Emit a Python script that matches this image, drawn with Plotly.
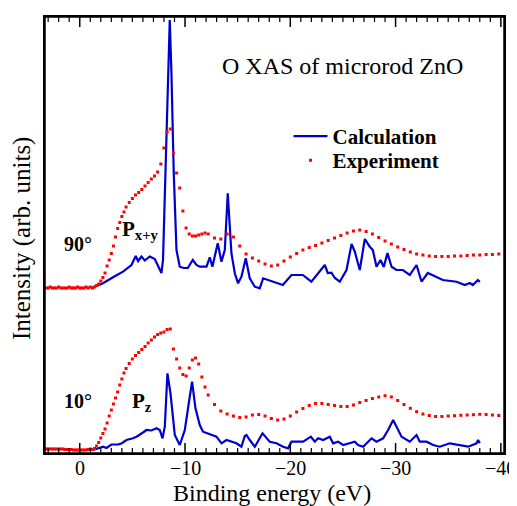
import plotly.graph_objects as go

# ---------------- data (energies in eV, intensities in arb. units) ----------------
exp_energy = [3.2, 3.0, 2.8, 2.6, 2.4, 2.2, 2.0, 1.8, 1.6, 1.4, 1.2, 1.0, 0.8, 0.6, 0.4, 0.2, 0.0,
              -0.2, -0.4, -0.6, -0.8, -1.0,
              -1.2, -1.4, -1.6, -1.8, -2.0, -2.2, -2.4, -2.6, -2.8, -3.0, -3.2, -3.4, -3.6, -3.8,
              -4.0, -4.2, -4.4,
              -4.7, -5.0, -5.3, -5.6, -5.9, -6.2, -6.5, -6.8, -7.1, -7.4, -7.7, -8.0, -8.3, -8.6,
              -8.9, -9.2, -9.5, -9.8, -10.1, -10.4, -10.7, -11.0, -11.3, -11.6, -11.9,
              -12.2, -12.8, -13.4, -14.0, -14.6, -15.2, -15.8, -16.4, -17.0, -17.6, -18.2, -18.8,
              -19.4, -20.0, -20.6, -21.2, -21.8, -22.4, -23.0, -23.6, -24.2, -24.8, -25.4, -26.0,
              -26.6, -27.2, -27.8, -28.4, -29.0, -29.6, -30.2, -30.8, -31.4, -32.0, -32.6, -33.2,
              -33.8, -34.4, -35.0, -35.6, -36.2, -36.8, -37.4, -38.0, -38.6, -39.2, -39.8]

exp_90 = [165, 165, 166, 165, 165, 165, 166, 165, 165, 165, 165, 166, 165, 165, 165, 166, 165,
          165, 165, 166, 165, 166,
          165, 166, 167.5, 169, 172, 175.5, 180, 187, 193, 199.5, 207, 216, 224.5, 230.5,
          236.5, 241, 246,
          250.5, 254.5, 258, 260.5, 263.5, 267, 270.5, 274, 277, 281, 289, 305, 321, 324,
          300, 280, 265, 242, 225, 219, 217, 217, 218, 219, 220,
          219, 215, 214, 219, 216, 207, 199, 195, 192, 189, 187, 188,
          192, 196, 199.5, 203, 205.5, 207.5, 210, 212.5, 215, 217.5, 220, 222,
          223, 221.5, 219, 215.5, 212, 209, 206, 203.5, 201, 199, 198, 197,
          196.5, 196.5, 196.5, 197, 197, 197.5, 198, 198, 198.5, 198.5, 199]

exp_10 = [4, 4, 4, 4, 4, 4, 4, 4, 4, 3.5, 3.5, 3.5, 3.5, 3, 3, 3, 3,
          3, 3, 3, 3.5, 4,
          3.5, 4.5, 7, 10.5, 15, 19.5, 24, 30, 37, 43, 49, 55, 61, 68,
          74, 80, 84.5,
          89.5, 94, 97.5, 100.5, 103.5, 106.5, 110, 113, 116, 118.5, 120, 121, 123.5, 124,
          104, 94, 85, 78.5, 77, 85, 93, 95, 89, 76, 66,
          58, 48.5, 42, 39, 37, 35.5, 36, 38, 38.5, 37, 34.5, 33,
          34, 37, 41, 44.5, 47.5, 49.5, 49.5, 48.5, 47.5, 46.5, 46.5, 48,
          50.5, 52.5, 54.5, 56, 57.3, 56, 52.5, 48.5, 44.7, 41.3, 39, 37.5,
          36.5, 36.5, 37, 37.3, 37.7, 38, 38.3, 38.7, 38.5, 38, 37.5]

calc90_energy = [-1.14, -2.21, -3.16, -4.11, -4.91, -5.32, -5.54, -5.86, -6.18, -6.65, -7.13,
                 -7.44, -7.76, -7.91, -8.08, -8.36, -8.55, -8.71, -8.93, -9.19, -9.5, -9.88,
                 -10.26, -10.74, -11.09, -11.4, -12.04, -12.35, -12.6, -13.11, -13.46, -13.78,
                 -14.06, -14.41, -14.73, -15.04, -15.36, -15.77, -16.15, -16.63, -17.1, -17.42,
                 -17.89, -18.53, -19.29, -20.11, -21.19, -22.0, -22.8, -23.28, -23.56, -23.91,
                 -24.23, -24.7, -25.34, -25.82, -26.13, -26.6, -27.08, -27.55, -27.84, -28.19,
                 -28.57, -28.88, -29.23, -29.62, -30.09, -30.69, -31.35, -31.99, -32.47, -33.06,
                 -34.49, -35.79, -36.58, -37.05, -37.34, -37.82, -38.0]
calc_90 = [165, 169.7, 175.7, 181.3, 188, 197, 192, 196.5, 192.5, 196.5, 194,
           187, 180, 193, 253, 360, 433, 380, 280, 203, 186.3, 185,
           185, 193, 188, 186.3, 186.3, 195.7, 186.3, 209.7, 191.3, 203,
           259.7, 199.7, 179.7, 169.7, 176.3, 194.7, 174.7, 166.3, 164.7, 174.7,
           173, 171.3, 168, 178, 178, 171.3, 181.3, 188, 180, 180.3,
           175, 171.3, 183, 209, 201.3, 183, 214, 206.3, 203, 186.3,
           193, 186, 200, 186.3, 183, 183, 178, 188, 171.3, 180,
           173, 171.3, 168, 170, 168, 173, 171]

calc10_energy = [-0.95, -1.43, -2.21, -2.54, -3.01, -3.64, -3.96, -4.44, -5.06, -5.39, -6.01,
                 -6.34, -6.81, -7.29, -7.6, -7.86, -8.08, -8.33, -8.62, -9.03, -9.5, -9.98,
                 -10.36, -10.67, -10.99, -11.4, -11.71, -12.19, -12.99, -13.46, -13.94, -14.89,
                 -15.36, -15.68, -15.84, -16.15, -16.63, -17.36, -17.74, -18.05, -18.69, -19.32,
                 -19.79, -20.11, -21.22, -21.95, -22.33, -22.64, -23.12, -23.75, -24.07, -24.54,
                 -25.02, -26.13, -26.44, -26.92, -27.72, -28.19, -28.82, -29.29, -29.77, -30.09,
                 -30.57, -31.35, -31.99, -32.3, -32.94, -33.57, -34.2, -35.15, -36.1, -36.9,
                 -37.69, -37.84, -38.0]
calc_10 = [3, 3.5, 6.3, 5, 8.5, 8.5, 9.5, 13, 14.7, 16.3, 20.5,
           23, 22.5, 24.7, 23, 14.7, 26.3, 79.7, 59.7, 18, 8, 23,
           50, 71.3, 45, 28, 21.3, 19.7, 16.3, 9.7, 13, 9.7,
           6.3, 17, 18, 13, 6.3, 19.7, 14.7, 11.3, 9.7, 6.3,
           4.7, 11.3, 11.3, 16.3, 11.3, 14.7, 13, 16.3, 9.7, 11.3,
           8, 11.3, 8, 6.3, 14.7, 11.3, 14.7, 23, 33, 26.3,
           16.3, 11.3, 18, 11.3, 11.3, 8, 6.3, 9.7, 8, 6.3,
           9.7, 13, 9.7]

x_ticks = [0, -10, -20, -30, -40]
x_tick_text = ["0", "\u221210", "\u221220", "\u221230", "\u221240"]
x_minor_ticks = [v for v in range(3, -41, -1) if v not in x_ticks]

# ---------------- styling ----------------
FONT = "Liberation Serif"
BLUE = "#0000cc"
RED = "#ff0000"
X_RANGE = [3.3, -40.3]
Y_RANGE = [0, 436]          # y units equal plot pixels (plot height 436 px)
MAJOR_LEN, MINOR_LEN = 10, 5


def tick_segments(vals, length):
    """Inside tick marks on bottom and top frame edges, on the x scale."""
    xs, ys = [], []
    for v in vals:
        xs += [v, v, None, v, v, None]
        ys += [Y_RANGE[0], Y_RANGE[0] + length, None, Y_RANGE[1], Y_RANGE[1] - length, None]
    return xs, ys


fig = go.Figure()
fig.add_trace(go.Scatter(x=calc90_energy, y=calc_90, mode="lines", name="<b>Calculation</b>",
                         line=dict(color=BLUE, width=2.2), legend="legend"))
fig.add_trace(go.Scatter(x=calc10_energy, y=calc_10, mode="lines", showlegend=False,
                         line=dict(color=BLUE, width=2.2)))
fig.add_trace(go.Scatter(x=exp_energy, y=exp_90, mode="markers", name="<b>Experiment</b>",
                         marker=dict(color=RED, size=3, symbol="square", line=dict(width=0)),
                         legend="legend2"))
fig.add_trace(go.Scatter(x=exp_energy, y=exp_10, mode="markers", showlegend=False,
                         marker=dict(color=RED, size=3, symbol="square", line=dict(width=0))))

# frame tick marks (major and minor), top and bottom
mx, my = tick_segments(x_ticks, MAJOR_LEN)
fig.add_trace(go.Scatter(x=mx, y=my, mode="lines", showlegend=False, hoverinfo="skip",
                         line=dict(color="black", width=1.5)))
nx, ny = tick_segments(x_minor_ticks, MINOR_LEN)
fig.add_trace(go.Scatter(x=nx, y=ny, mode="lines", showlegend=False, hoverinfo="skip",
                         line=dict(color="black", width=1.2)))

legend_common = dict(font=dict(family=FONT, size=21, color="black"), bgcolor="rgba(0,0,0,0)",
                     borderwidth=0, xanchor="left", yanchor="middle", itemwidth=34)

txt = dict(family=FONT, color="black")

annotations = [
    dict(text="O XAS of microrod ZnO", x=(342 - 45) / 459, y=(453 - 66) / 436,
         xref="paper", yref="paper", xanchor="center", yanchor="middle", showarrow=False,
         font=dict(size=24, **txt)),
    dict(text="<b>90°</b>", x=-(78 - 80) / 10.525, y=453 - 244, xref="x", yref="y",
         xanchor="center", yanchor="middle", showarrow=False, font=dict(size=20, **txt)),
    dict(text="<b>P<sub>x+y</sub></b>", x=-(141 - 80) / 10.525, y=453 - 230, xref="x", yref="y",
         xanchor="center", yanchor="middle", showarrow=False, font=dict(size=21, **txt)),
    dict(text="<b>10°</b>", x=-(78 - 80) / 10.525, y=453 - 401, xref="x", yref="y",
         xanchor="center", yanchor="middle", showarrow=False, font=dict(size=20, **txt)),
    dict(text="<b>P<sub>z</sub></b>", x=-(142 - 80) / 10.525, y=453 - 402, xref="x", yref="y",
         xanchor="center", yanchor="middle", showarrow=False, font=dict(size=21, **txt)),
    # axis titles
    dict(text="Binding energy (eV)", x=(272 - 45) / 459, y=(453 - 493) / 436,
         xref="paper", yref="paper", xanchor="center", yanchor="middle", showarrow=False,
         font=dict(size=24, **txt)),
    dict(text="Intensity (arb. units)", x=(22 - 45) / 459, y=(453 - 239) / 436, textangle=-90,
         xref="paper", yref="paper", xanchor="center", yanchor="middle", showarrow=False,
         font=dict(size=25, **txt)),
]
# x tick labels, placed at the tick values on the x scale
for v, t in zip(x_ticks, x_tick_text):
    annotations.append(dict(text=t, x=v, y=(453 - 468) / 436, xref="x", yref="paper",
                            xanchor="center", yanchor="middle", showarrow=False,
                            font=dict(size=20, **txt)))

# the page body adds an 8px offset, so the figure is 8px smaller and margins compensate
fig.update_layout(
    width=509, height=498,
    margin=dict(l=37, r=13, t=9, b=53, autoexpand=False),
    paper_bgcolor="white", plot_bgcolor="white",
    font=dict(family=FONT, color="black"),
    legend=dict(x=0.5305, y=(453 - 136.5) / 436, **legend_common),
    legend2=dict(x=0.5305, y=(453 - 160.5) / 436, **legend_common),
    xaxis=dict(range=X_RANGE, showticklabels=False, ticks="", showline=True, linecolor="black",
               linewidth=1.5, mirror=True, showgrid=False, zeroline=False, automargin=False),
    yaxis=dict(range=Y_RANGE, showticklabels=False, ticks="", showline=True, linecolor="black",
               linewidth=1.5, mirror=True, showgrid=False, zeroline=False, automargin=False),
    shapes=[dict(type="rect", xref="paper", yref="paper", x0=0, x1=1, y0=0, y1=1,
                 line=dict(color="black", width=1.5), fillcolor="rgba(0,0,0,0)", layer="above")],
    annotations=annotations,
)

fig.write_html("out.html")
